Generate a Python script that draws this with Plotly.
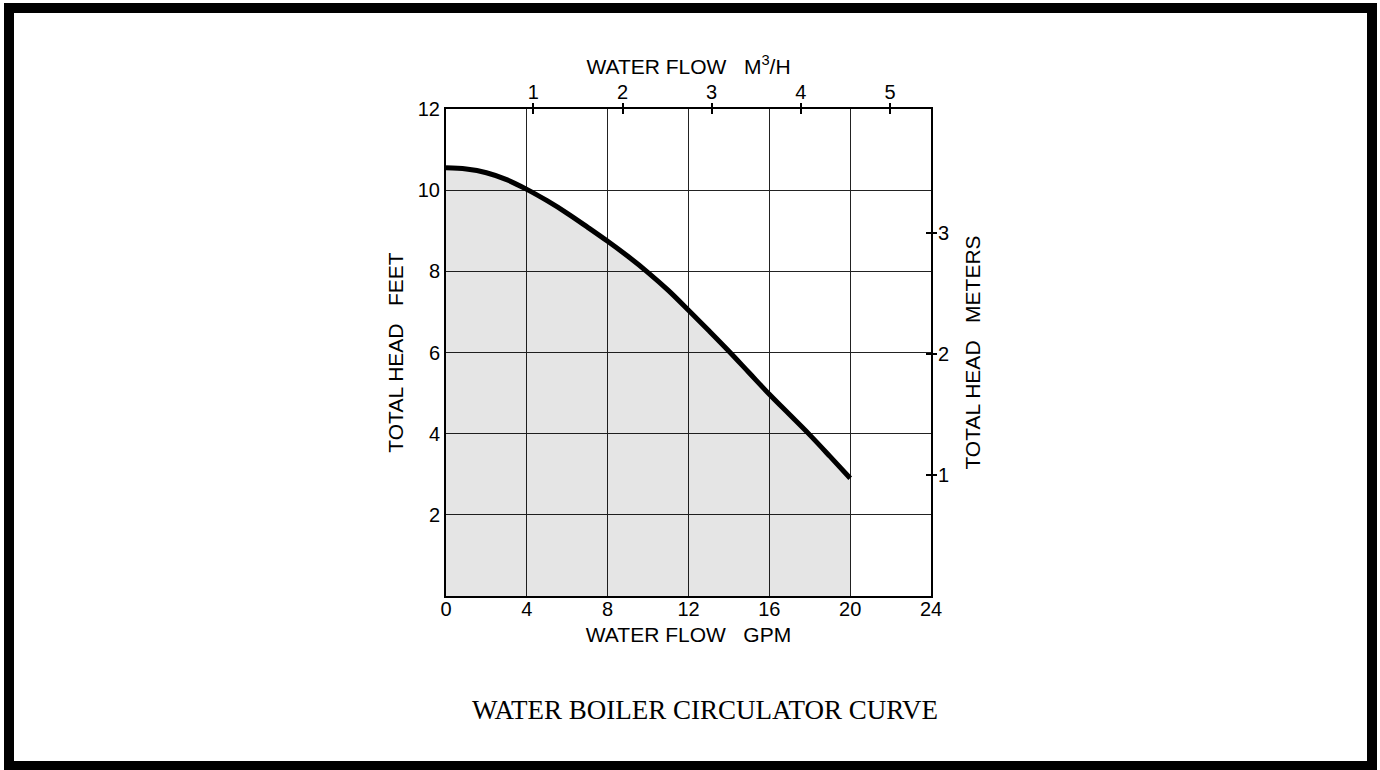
import plotly.graph_objects as go

# Data
gpm = [0, 1, 2, 3, 4, 5, 6, 7, 8, 9, 10, 11, 12, 13, 14, 15, 16, 17, 18, 19, 20]
head_ft = [10.55, 10.52, 10.43, 10.26, 10.02, 9.74, 9.43, 9.09, 8.74, 8.37, 7.97,
           7.53, 7.04, 6.54, 6.03, 5.5, 4.97, 4.47, 3.97, 3.44, 2.9]

x_ticks = [0, 4, 8, 12, 16, 20, 24]
y_ticks = [2, 4, 6, 8, 10, 12]
m3h_ticks = [1, 2, 3, 4, 5]
meter_ticks = [1, 2, 3]

FONT = "Liberation Sans, Arial, sans-serif"
SP = "\u00a0\u00a0\u00a0"
TS = 20
AS = 21

fig = go.Figure()
fig.add_trace(go.Scatter(
    x=gpm, y=head_ft, mode="lines",
    line=dict(color="black", width=5, shape="spline", smoothing=1.0),
    fill="tozeroy", fillcolor="rgba(0,0,0,0.1)", hoverinfo="skip", showlegend=False))
# invisible traces to anchor secondary axes
fig.add_trace(go.Scatter(x=[1], y=[1], xaxis="x2", yaxis="y2", mode="markers",
                         marker=dict(opacity=0), showlegend=False, hoverinfo="skip"))
fig.add_trace(go.Scatter(x=[1], y=[1], xaxis="x3", yaxis="y3", mode="markers",
                         marker=dict(opacity=0), showlegend=False, hoverinfo="skip"))

W, H = 1380, 770
L, R, T, B = 446, 931, 109, 596
pw, ph = R - L, B - T

def px(xp):
    return (xp - L) / pw

def py(yp):
    return (B - yp) / ph

fig.update_layout(
    width=W, height=H,
    margin=dict(l=L, r=W - R, t=T, b=H - B),
    paper_bgcolor="white", plot_bgcolor="white",
    font=dict(family=FONT, size=TS, color="black"),
    xaxis=dict(range=[0, 24], tickvals=x_ticks, showgrid=True, gridcolor="#222",
               gridwidth=1, showline=True, linecolor="black", linewidth=2, mirror=True,
               ticks="", zeroline=False, tickfont=dict(size=TS), ticklabelstandoff=-6,
               title=dict(text="WATER FLOW" + SP + "GPM", font=dict(size=AS), standoff=8)),
    yaxis=dict(range=[0, 12], tickvals=y_ticks, showgrid=True, gridcolor="#222",
               gridwidth=1, showline=True, linecolor="black", linewidth=2, mirror=True,
               ticks="", zeroline=False, tickfont=dict(size=TS),
               title=dict(text="TOTAL HEAD" + SP + "FEET", font=dict(size=AS), standoff=8)),
    xaxis2=dict(overlaying="x", side="top", range=[0.02, 5.46], tickvals=m3h_ticks,
                ticks="outside", ticklen=5, tickwidth=2, tickcolor="black",
                showgrid=False, zeroline=False, showline=False, tickfont=dict(size=TS),
                ticklabelstandoff=-4,
                title=dict(text="WATER FLOW" + SP + "M<sup>3</sup>/H", font=dict(size=AS), standoff=0)),
    yaxis2=dict(overlaying="y", side="right", range=[0, 12 / 2.98], tickvals=meter_ticks,
                ticks="outside", ticklen=5, tickwidth=2, tickcolor="black",
                showgrid=False, zeroline=False, showline=False, tickfont=dict(size=TS),
                ticklabelstandoff=-3,
                title=dict(text="TOTAL HEAD" + SP + "METERS", font=dict(size=AS), standoff=17)),
    xaxis3=dict(overlaying="x", side="top", range=[0.02, 5.46], tickvals=m3h_ticks,
                ticks="inside", ticklen=5, tickwidth=2, tickcolor="black",
                showticklabels=False, showgrid=False, zeroline=False, showline=False),
    yaxis3=dict(overlaying="y", side="right", range=[0, 12 / 2.98], tickvals=meter_ticks,
                ticks="inside", ticklen=5, tickwidth=2, tickcolor="black",
                showticklabels=False, showgrid=False, zeroline=False, showline=False),
    shapes=[dict(type="rect", xref="paper", yref="paper",
                 x0=px(9), x1=px(1372), y0=py(8), y1=py(766),
                 line=dict(color="black", width=10), fillcolor="rgba(0,0,0,0)", layer="above")],
    annotations=[dict(text="WATER BOILER CIRCULATOR CURVE", xref="paper", yref="paper",
                      x=px(705), y=py(710), showarrow=False, xanchor="center", yanchor="middle",
                      font=dict(family="Liberation Serif, Times New Roman, serif", size=27, color="black"))],
)

fig.write_html("out.html", config={"displayModeBar": False},
               post_script="document.body.style.margin='0';")
